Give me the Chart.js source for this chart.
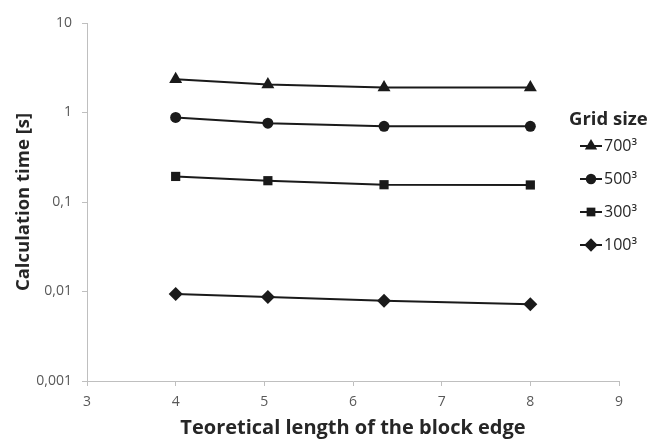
<!DOCTYPE html>
<html>
<head>
<meta charset="utf-8">
<script src="https://cdn.jsdelivr.net/npm/chart.js@4/dist/chart.umd.min.js"></script>
<style>
  html, body { margin: 0; padding: 0; background: #ffffff; }
  #wrap { width: 668px; height: 441px; }
</style>
</head>
<body>
<div id="wrap"><canvas id="chart" width="668" height="441"></canvas></div>
<script>
// Block edge length (x) and calculation time in seconds for each grid size
const edgeLength = [4, 5.04, 6.35, 8];
const time700 = [2.35, 2.05, 1.9, 1.9];
const time500 = [0.88, 0.76, 0.70, 0.70];
const time300 = [0.193, 0.173, 0.156, 0.155];
const time100 = [0.0094, 0.0087, 0.0079, 0.0072];

const gridLabels = ['700³', '500³', '300³', '100³'];
const yTickValues = [0.001, 0.01, 0.1, 1, 10];
const yTickLabels = ['0,001', '0,01', '0,1', '1', '10'];

const INK = '#1a1a1a';
const AXIS = '#bfbfbf';
const FONT = "'Open Sans', 'Noto Sans', 'DejaVu Sans', sans-serif";

const markerStyles = ['triangle', 'circle', 'rect', 'rectRot'];
const markerRadius = [7.5, 5.5, 6.5, 7];

function pairs(values) {
  return values.map((v, i) => ({ x: edgeLength[i], y: v }));
}

// Small legend swatch: a short line with the series marker on top
function legendIcon(style, radius) {
  const c = document.createElement('canvas');
  c.width = 22; c.height = 16;
  const g = c.getContext('2d');
  g.strokeStyle = INK; g.fillStyle = INK; g.lineWidth = 2;
  g.beginPath(); g.moveTo(0, 8); g.lineTo(22, 8); g.stroke();
  Chart.helpers.drawPoint(g, { pointStyle: style, radius: radius, rotation: 0, borderWidth: 0 }, 11, 8);
  return c;
}

const seriesValues = [time700, time500, time300, time100];
const datasets = seriesValues.map((vals, i) => ({
  label: gridLabels[i],
  data: pairs(vals),
  borderColor: INK,
  backgroundColor: INK,
  borderWidth: 2,
  pointStyle: markerStyles[i],
  pointRadius: markerRadius[i],
  pointBorderWidth: 0,
  pointBackgroundColor: INK,
  tension: 0
}));

// Place the legend block to the right of the plotted lines
const legendPlacement = {
  id: 'legendPlacement',
  afterLayout(chart) {
    const lg = chart.legend;
    if (!lg) return;
    const h = lg.height;
    lg.left = 569; lg.right = chart.width; lg.width = lg.right - lg.left;
    lg.top = 0; lg.bottom = h;
  }
};

new Chart(document.getElementById('chart'), {
  type: 'line',
  data: { datasets },
  plugins: [legendPlacement],
  options: {
    responsive: false,
    animation: false,
    devicePixelRatio: 1,
    layout: { padding: { top: 23, right: 49, left: 0, bottom: 0 } },
    plugins: {
      tooltip: { enabled: false },
      legend: {
        position: 'chartArea',
        align: 'start',
        title: {
          display: true,
          text: 'Grid size',
          position: 'start',
          color: '#262626',
          font: { family: FONT, size: 18.5, weight: 'bold', lineHeight: 1 },
          padding: { top: 110.75, bottom: -8.25 }
        },
        labels: {
          usePointStyle: true,
          pointStyleWidth: 10,
          padding: 17,
          color: '#262626',
          font: { family: FONT, size: 16 },
          generateLabels(chart) {
            return chart.data.datasets.map((ds, i) => ({
              text: ds.label,
              pointStyle: legendIcon(markerStyles[i], markerRadius[i] * 0.95),
              fillStyle: INK,
              strokeStyle: INK,
              lineWidth: 0,
              hidden: false,
              datasetIndex: i
            }));
          }
        }
      }
    },
    scales: {
      x: {
        type: 'linear',
        min: 3,
        max: 9,
        afterFit(scale) { scale.height = 60; },
        ticks: { stepSize: 1, padding: 7.5, color: '#595959', font: { family: FONT, size: 14 } },
        grid: { display: true, drawOnChartArea: false, drawTicks: true, tickLength: 5, color: AXIS },
        border: { display: true, color: AXIS, width: 1 },
        title: {
          display: true,
          text: 'Teoretical length of the block edge',
          color: '#262626',
          font: { family: FONT, size: 20, weight: 'bold' },
          padding: { top: 0, bottom: 1 }
        }
      },
      y: {
        type: 'logarithmic',
        min: 0.001,
        max: 10,
        afterFit(scale) { scale.width = 87; },
        afterBuildTicks(scale) { scale.ticks = yTickValues.map(v => ({ value: v, major: true })); },
        ticks: {
          padding: 10,
          color: '#595959',
          font: { family: FONT, size: 14 },
          callback(value) {
            const k = yTickValues.findIndex(t => Math.abs(t - value) < t * 1e-6);
            return k >= 0 ? yTickLabels[k] : '';
          }
        },
        grid: { display: true, drawOnChartArea: false, drawTicks: true, tickLength: 5, color: AXIS },
        border: { display: true, color: AXIS, width: 1 },
        title: {
          display: true,
          text: 'Calculation time [s]',
          color: '#262626',
          font: { family: FONT, size: 18.5, weight: 'bold' },
          padding: { top: 13, bottom: 0 }
        }
      }
    }
  }
});
</script>
</body>
</html>
